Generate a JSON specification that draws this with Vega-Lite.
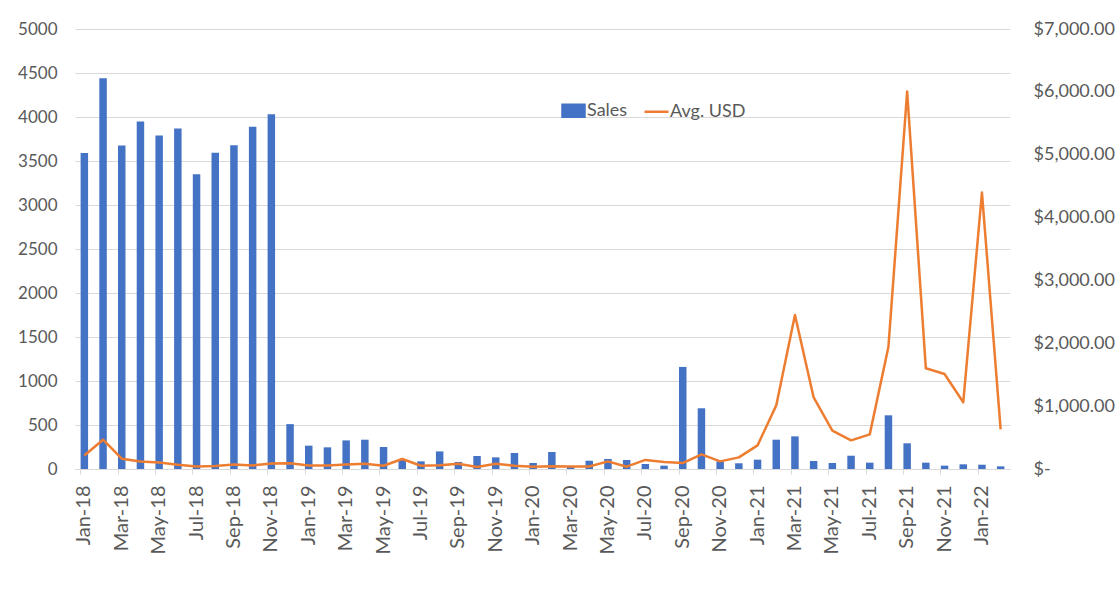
{
  "$schema": "https://vega.github.io/schema/vega-lite/v6.json",
  "autosize": "none",
  "width": 935,
  "height": 440,
  "padding": {"left": 75, "top": 29, "right": 107, "bottom": 126},
  "background": "white",
  "config": {
    "view": {"stroke": null},
    "font": "Lato",
    "axis": {"labelFont": "Lato", "labelColor": "#595959"}
  },
  "data": {
    "values": [
      {"month": "Jan-18", "sales": 3590, "usd": 216},
      {"month": "Feb-18", "sales": 4440, "usd": 466},
      {"month": "Mar-18", "sales": 3675, "usd": 164},
      {"month": "Apr-18", "sales": 3950, "usd": 121},
      {"month": "May-18", "sales": 3790, "usd": 105},
      {"month": "Jun-18", "sales": 3870, "usd": 68},
      {"month": "Jul-18", "sales": 3350, "usd": 41},
      {"month": "Aug-18", "sales": 3595, "usd": 48},
      {"month": "Sep-18", "sales": 3680, "usd": 73},
      {"month": "Oct-18", "sales": 3890, "usd": 57},
      {"month": "Nov-18", "sales": 4030, "usd": 89},
      {"month": "Dec-18", "sales": 510, "usd": 90},
      {"month": "Jan-19", "sales": 265, "usd": 55},
      {"month": "Feb-19", "sales": 246, "usd": 55},
      {"month": "Mar-19", "sales": 325, "usd": 70},
      {"month": "Apr-19", "sales": 333, "usd": 84},
      {"month": "May-19", "sales": 250, "usd": 52},
      {"month": "Jun-19", "sales": 110, "usd": 159},
      {"month": "Jul-19", "sales": 87, "usd": 52},
      {"month": "Aug-19", "sales": 200, "usd": 60},
      {"month": "Sep-19", "sales": 80, "usd": 84},
      {"month": "Oct-19", "sales": 148, "usd": 32},
      {"month": "Nov-19", "sales": 132, "usd": 84},
      {"month": "Dec-19", "sales": 182, "usd": 52},
      {"month": "Jan-20", "sales": 68, "usd": 37},
      {"month": "Feb-20", "sales": 193, "usd": 45},
      {"month": "Mar-20", "sales": 30, "usd": 40},
      {"month": "Apr-20", "sales": 94, "usd": 40},
      {"month": "May-20", "sales": 114, "usd": 121},
      {"month": "Jun-20", "sales": 102, "usd": 37},
      {"month": "Jul-20", "sales": 57, "usd": 145},
      {"month": "Aug-20", "sales": 38, "usd": 111},
      {"month": "Sep-20", "sales": 1160, "usd": 95},
      {"month": "Oct-20", "sales": 690, "usd": 233},
      {"month": "Nov-20", "sales": 87, "usd": 121},
      {"month": "Dec-20", "sales": 65, "usd": 185},
      {"month": "Jan-21", "sales": 106, "usd": 376},
      {"month": "Feb-21", "sales": 333, "usd": 1012},
      {"month": "Mar-21", "sales": 371, "usd": 2450},
      {"month": "Apr-21", "sales": 91, "usd": 1139},
      {"month": "May-21", "sales": 68, "usd": 609},
      {"month": "Jun-21", "sales": 151, "usd": 456},
      {"month": "Jul-21", "sales": 72, "usd": 551},
      {"month": "Aug-21", "sales": 610, "usd": 1946},
      {"month": "Sep-21", "sales": 292, "usd": 6004},
      {"month": "Oct-21", "sales": 72, "usd": 1602},
      {"month": "Nov-21", "sales": 38, "usd": 1511},
      {"month": "Dec-21", "sales": 53, "usd": 1061},
      {"month": "Jan-22", "sales": 49, "usd": 4398},
      {"month": "Feb-22", "sales": 30, "usd": 631}
    ]
  },
  "encoding": {
    "x": {
      "field": "month",
      "type": "ordinal",
      "sort": null,
      "scale": {"paddingInner": 0.6, "paddingOuter": 0.3},
      "axis": {
        "title": null,
        "values": ["Jan-18","Mar-18","May-18","Jul-18","Sep-18","Nov-18","Jan-19","Mar-19","May-19","Jul-19","Sep-19","Nov-19","Jan-20","Mar-20","May-20","Jul-20","Sep-20","Nov-20","Jan-21","Mar-21","May-21","Jul-21","Sep-21","Nov-21","Jan-22"],
        "labelAngle": -90,
        "labelAlign": "right",
        "labelBaseline": "middle",
        "labelFontSize": 20,
        "labelPadding": 11,
        "bandPosition": 0,
        "tickSize": 5,
        "tickColor": "#d9d9d9",
        "domainColor": "#d9d9d9",
        "grid": false
      }
    }
  },
  "layer": [
    {
      "mark": {"type": "bar", "color": "#4472C4"},
      "encoding": {
        "y": {
          "field": "sales",
          "type": "quantitative",
          "scale": {"domain": [0, 5000], "nice": false},
          "axis": {
            "title": null,
            "values": [0,500,1000,1500,2000,2500,3000,3500,4000,4500,5000],
            "format": "d",
            "labelFontSize": 17,
            "labelPadding": 18,
            "ticks": false,
            "domain": false,
            "grid": true,
            "gridColor": "#d9d9d9"
          }
        },
        "color": {
          "datum": "Sales",
          "type": "nominal",
          "scale": {"domain": ["Sales", "Avg. USD"], "range": ["#4472C4", "#ED7D31"]},
          "legend": {
            "orient": "none",
            "legendX": 485,
            "legendY": 68,
            "direction": "horizontal",
            "title": null,
            "labelFont": "Lato",
            "labelFontSize": 18,
            "labelColor": "#595959",
            "symbolSize": 576,
            "columnPadding": 11,
            "labelOffset": 0,
            "encode": {
              "symbols": {
                "update": {
                  "shape": {"signal": "datum.value === 'Sales' ? 'M-1,-0.55H1V0.55H-1Z' : 'M-1,0H1'"},
                  "fill": {"signal": "datum.value === 'Sales' ? '#4472C4' : 'transparent'"},
                  "stroke": {"signal": "datum.value === 'Sales' ? 'transparent' : '#ED7D31'"},
                  "strokeWidth": {"value": 2.5},
                  "size": {"signal": "datum.value === 'Sales' ? 484 : 576"},
                  "opacity": {"value": 1}
                }
              }
            }
          }
        }
      }
    },
    {
      "mark": {"type": "line", "strokeWidth": 2.5, "strokeJoin": "round"},
      "encoding": {
        "y": {
          "field": "usd",
          "type": "quantitative",
          "scale": {"domain": [0, 7000], "nice": false},
          "axis": {
            "title": null,
            "orient": "right",
            "values": [0,1000,2000,3000,4000,5000,6000,7000],
            "labelExpr": "datum.value === 0 ? '$-' : format(datum.value, '$,.2f')",
            "labelFontSize": 18,
            "labelPadding": 23,
            "ticks": false,
            "domain": false,
            "grid": false
          }
        },
        "color": {"datum": "Avg. USD", "type": "nominal"}
      }
    }
  ],
  "resolve": {"scale": {"y": "independent"}}
}
